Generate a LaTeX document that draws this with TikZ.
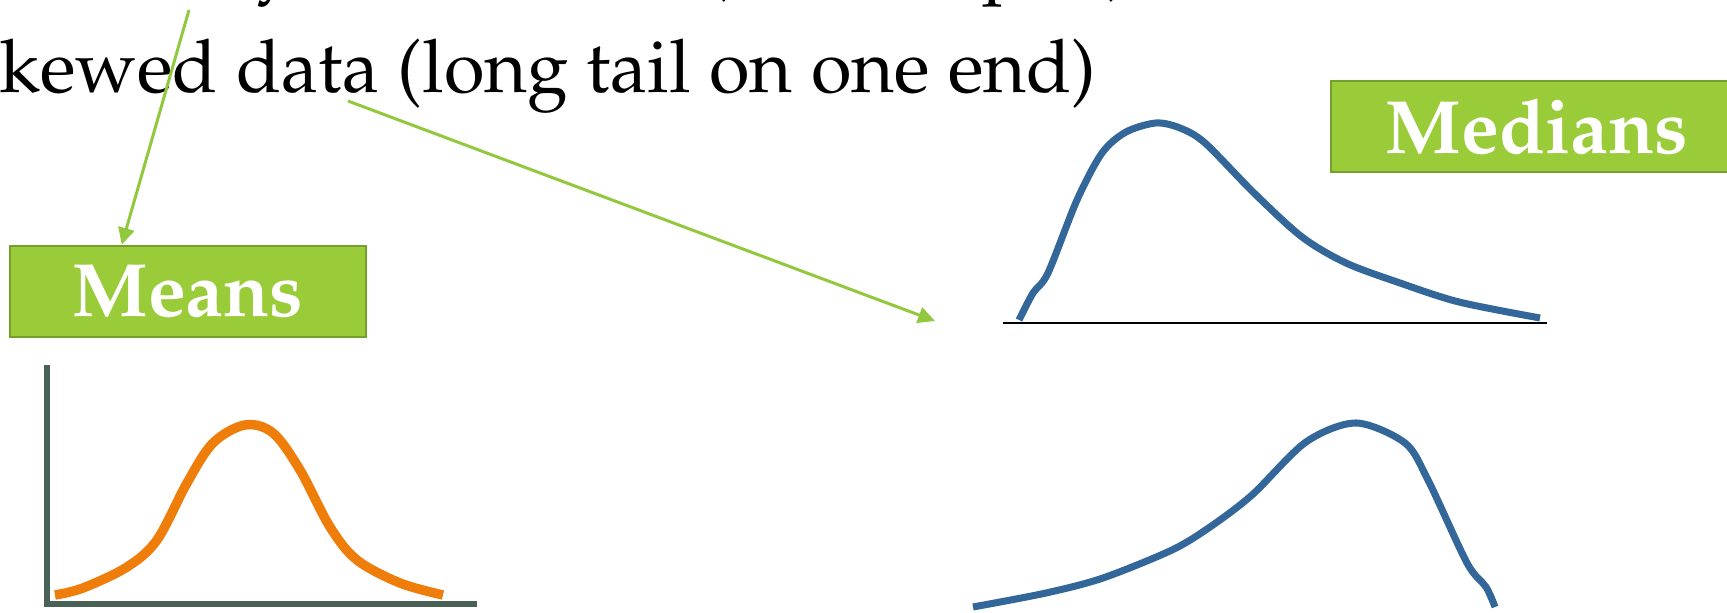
\documentclass[tikz,border=0pt]{standalone}
\usepackage[T1]{fontenc}
\usepackage{mathpazo}
\usetikzlibrary{arrows.meta}
\definecolor{boxgreen}{RGB}{154,204,58}
\definecolor{boxedge}{RGB}{118,160,44}
\definecolor{arrgreen}{RGB}{146,200,62}
\definecolor{curveorange}{RGB}{238,125,10}
\definecolor{axisgray}{RGB}{74,98,86}
\definecolor{curveblue}{RGB}{52,103,153}
\tikzset{
 labelbox/.style={draw=boxedge, line width=0.7pt, fill=boxgreen, text=white,
   font=\fontsize{21.5}{26}\selectfont\bfseries, minimum height=0.91cm, inner sep=0pt},
 pointer/.style={draw=arrgreen, line width=0.85pt, -{Triangle[length=4.8pt,width=4.6pt]}},
 bodytext/.style={font=\fontsize{21}{25}\selectfont, inner sep=0pt, text=black},
 normalcurve/.style={curveorange, line width=2.7pt},
 skewcurve/.style={curveblue, line width=2pt},
 axisline/.style={axisgray, line width=1.6pt},
 baseline rule/.style={black, line width=0.6pt},
}
\begin{document}
\begin{tikzpicture}[x=0.01cm,y=-0.01cm]
\useasboundingbox (0,0) rectangle (1727,613);
\clip (0,0) rectangle (1727,613);
\fill[white] (0,0) rectangle (1727,613);

% text lines (partly cut by the frame)
\node[bodytext, anchor=base west] (line1) at (221,-13) {\scalebox{0.9}[1]{Symmetric data} (bell-shaped)};
\node[bodytext, anchor=base east] (line2) at (1097,93) {Skewed data (long tail on one end)};

% label boxes
\node[labelbox, minimum width=3.56cm] (means) at (188,291.5) {Means};
\node[labelbox, minimum width=4.12cm] (medians) at (1537,126.5) {Medians};

% arrows
\coordinate (p1s) at (189,10);
\coordinate (p1e) at ([xshift=1.13cm]means.north west);
\draw[pointer] (p1s) -- (p1e);
\coordinate (p2s) at (348,101);
\coordinate (p2e) at (935,321);
\draw[pointer] (p2s) -- (p2e);

% normal distribution with axes
\draw[axisline] (47,365) -- (47,604);
\draw[axisline] (44,604) -- (477,604);
\draw[normalcurve] plot[smooth, tension=0.55] coordinates {
 (55,595) (83,588) (127,567) (157,540) (187,483) (213,443) (245,425)
 (273,433) (300,470) (330,527) (357,560) (400,583) (443,595)};

% right-skewed distribution
\draw[baseline rule] (1003,323) -- (1547,323);
\draw[skewcurve] plot[smooth, tension=0.5] coordinates {
 (1019,320) (1033,293) (1048,273) (1077,200) (1102,153) (1126,132) (1156,123)
 (1180,128) (1205,143) (1254,193) (1302,237) (1346,263) (1400,283) (1459,302) (1540,318)};

% left-skewed distribution
\draw[skewcurve] plot[smooth, tension=0.5] coordinates {
 (973,607) (1046,593) (1103,578) (1172,550) (1210,527) (1252,495) (1306,442)
 (1356,423) (1405,443) (1428,480) (1467,563) (1486,587) (1495,607)};
\end{tikzpicture}
\end{document}
